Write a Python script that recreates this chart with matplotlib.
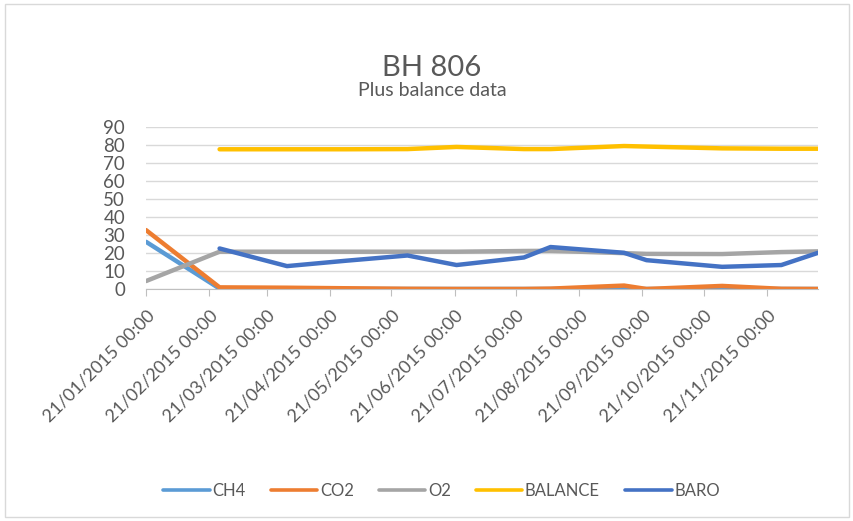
import numpy as np
import pandas as pd
import matplotlib
matplotlib.use("Agg")
import matplotlib.pyplot as plt
from matplotlib.patches import Rectangle

plt.rcParams['font.family'] = ['Lato', 'DejaVu Sans']

# %% data
dates = ["21/01/2015", "26/02/2015", "31/03/2015", "29/04/2015", "29/05/2015",
         "22/06/2015", "25/07/2015", "07/08/2015", "12/09/2015", "23/09/2015",
         "30/10/2015", "28/11/2015", "16/12/2015"]
ch4 = [26.3, 0.3, 0.2, 0.1, 0.1, 0.1, 0.1, 0.1, 0.1, 0.1, 0.1, 0.1, 0.1]
co2 = [32.8, 1.0, 0.8, 0.5, 0.2, 0.1, 0.1, 0.3, 2.0, 0.1, 1.8, 0.2, 0.1]
o2 = [4.5, 20.8, 20.8, 20.8, 20.8, 20.8, 21.2, 21.3, 20.0, 19.6, 19.5, 20.6, 21.0]
balance = [np.nan, 77.7, 77.7, 77.7, 77.8, 79.0, 77.8, 77.8, 79.5, 79.2, 78.2, 78.0, 78.0]
baro = [np.nan, 22.6, 12.8, 15.8, 18.7, 13.4, 17.6, 23.4, 20.2, 16.1, 12.4, 13.4, 20.2]

tick_dates = ["21/01/2015", "21/02/2015", "21/03/2015", "21/04/2015", "21/05/2015",
              "21/06/2015", "21/07/2015", "21/08/2015", "21/09/2015", "21/10/2015",
              "21/11/2015"]
tick_labels = [d + " 00:00" for d in tick_dates]
y_ticks = [0, 10, 20, 30, 40, 50, 60, 70, 80, 90]

x = pd.to_datetime(dates, format="%d/%m/%Y")
xt = pd.to_datetime(tick_dates, format="%d/%m/%Y")

series = [("CH4", ch4, "#5B9BD5"),
          ("CO2", co2, "#ED7D31"),
          ("O2", o2, "#A5A5A5"),
          ("BALANCE", balance, "#FFC000"),
          ("BARO", baro, "#4472C4")]

# %% plot
fig = plt.figure(figsize=(8.54, 5.21), dpi=100)
fig.patches.append(Rectangle((0.006, 0.008), 0.988, 0.984, transform=fig.transFigure,
                             fill=False, edgecolor="#D9D9D9", linewidth=1))
ax = fig.add_axes([0.171, 0.445, 0.787, 0.311])

for name, vals, col in series:
    ax.plot(x, vals, color=col, linewidth=3.2, label=name, solid_capstyle="round",
            solid_joinstyle="round")

ax.set_xlim(x[0], x[-1])
ax.set_ylim(0, 90)
ax.set_yticks(y_ticks)
ax.set_xticks(xt)
ax.set_xticklabels(tick_labels, rotation=45, ha="right", rotation_mode="anchor")
ax.grid(axis="y", color="#D9D9D9", linewidth=1)
ax.set_axisbelow(True)
for s in ["top", "right", "left"]:
    ax.spines[s].set_visible(False)
ax.spines["bottom"].set_color("#BFBFBF")
ax.tick_params(axis="y", length=0, pad=15, labelsize=13.5, labelcolor="#595959")
ax.tick_params(axis="x", direction="out", length=5, color="#BFBFBF", pad=8,
               labelsize=13, labelcolor="#595959")

fig.text(0.506, 0.87, "BH 806", ha="center", va="center", fontsize=21, color="#595959")
fig.text(0.506, 0.826, "Plus balance data", ha="center", va="center", fontsize=14,
         color="#595959")

leg = fig.legend(loc="center", bbox_to_anchor=(0.517, 0.057), ncol=5, frameon=False,
                 fontsize=12, labelcolor="#595959", handlelength=2.8, columnspacing=1.5,
                 handletextpad=0.15)
for h in leg.get_lines():
    h.set_linewidth(2.6)

fig.savefig("out.png", dpi=100)
